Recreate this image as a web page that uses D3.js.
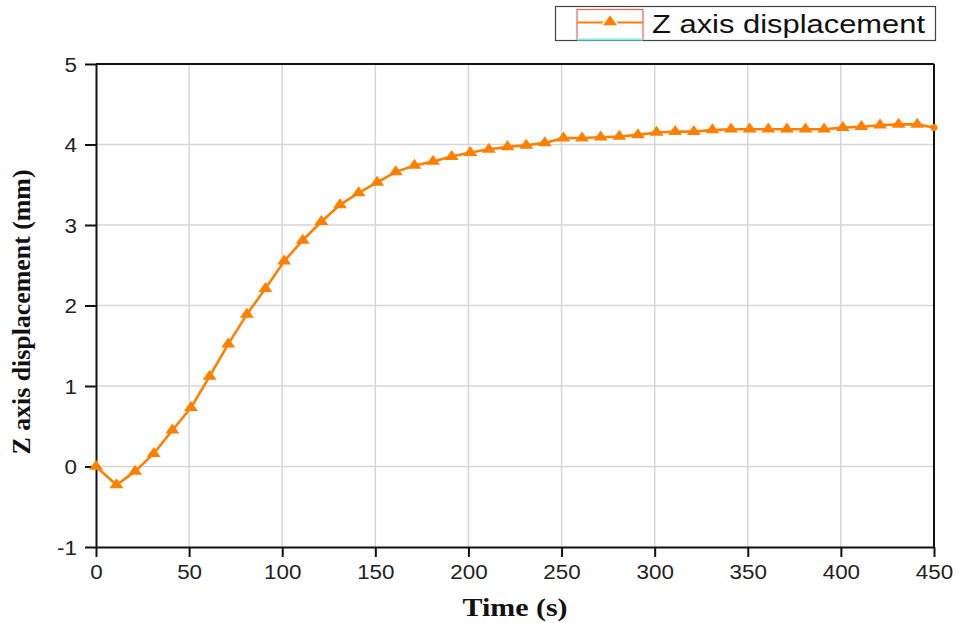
<!DOCTYPE html>
<html>
<head>
<meta charset="utf-8">
<script src="https://cdn.jsdelivr.net/npm/d3@7"></script>
<style>
  html, body { margin: 0; padding: 0; background: #fff; }
  svg { display: block; }
</style>
</head>
<body>
<svg id="chart" width="959" height="623"></svg>
<script>
// Z-axis displacement over time
const timeS = [0, 11, 21, 31, 41, 51, 61, 71, 81, 91, 101, 111, 121, 131, 141, 151, 161, 171, 181, 191,
  201, 211, 221, 231, 241, 251, 261, 271, 281, 291, 301, 311, 321, 331, 341, 351, 361, 371, 381, 391,
  401, 411, 421, 431, 441, 450];
const zDisp = [0, -0.23, -0.06, 0.16, 0.45, 0.73, 1.12, 1.52, 1.89, 2.21, 2.55, 2.81, 3.04, 3.25, 3.40, 3.53, 3.66, 3.74, 3.79, 3.85,
  3.90, 3.94, 3.97, 3.99, 4.02, 4.08, 4.08, 4.09, 4.10, 4.12, 4.15, 4.16, 4.16, 4.18, 4.19, 4.19, 4.19, 4.19, 4.19, 4.19,
  4.21, 4.22, 4.24, 4.25, 4.25, 4.21];
const xTicks = [0, 50, 100, 150, 200, 250, 300, 350, 400, 450];
const yTicks = [-1, 0, 1, 2, 3, 4, 5];
const seriesName = "Z axis displacement";

const color = "#ff8000";
const sans = "Liberation Sans, Arial, sans-serif";
const serif = "Liberation Serif, Times New Roman, serif";
const svg = d3.select("#chart");
const m = { left: 96, right: 934, top: 64, bottom: 547 };

// widen glyphs horizontally by a factor
function widen(sel, k) {
  sel.each(function () {
    const len = this.getComputedTextLength();
    d3.select(this).attr("textLength", len * k).attr("lengthAdjust", "spacingAndGlyphs");
  });
}

const x = d3.scaleLinear().domain([0, 450]).range([m.left, m.right]);
const y = d3.scaleLinear().domain([-1, 5]).range([m.bottom, m.top]);

// grid
const grid = svg.append("g").attr("stroke", "#d6d6d6").attr("stroke-width", 1.5);
grid.selectAll(".gx").data(xTicks.slice(1, -1)).join("line")
  .attr("x1", d => x(d)).attr("x2", d => x(d)).attr("y1", m.top).attr("y2", m.bottom);
grid.selectAll(".gy").data(yTicks.slice(1, -1)).join("line")
  .attr("y1", d => y(d)).attr("y2", d => y(d)).attr("x1", m.left).attr("x2", m.right);

// axes
const xAxis = svg.append("g").attr("transform", `translate(0,${m.bottom})`)
  .call(d3.axisBottom(x).tickValues(xTicks).tickSize(10).tickSizeOuter(0).tickPadding(8));
const yAxis = svg.append("g").attr("transform", `translate(${m.left},0)`)
  .call(d3.axisLeft(y).tickValues(yTicks).tickSize(11).tickSizeOuter(0).tickPadding(8)
    .tickFormat(d => String(d)));
[xAxis, yAxis].forEach(g => {
  g.selectAll("path").attr("stroke", "#111").attr("stroke-width", 2);
  g.selectAll("line").attr("stroke", "#111").attr("stroke-width", 2);
  g.selectAll("text").attr("font-family", sans).attr("font-size", 20).attr("fill", "#222");
  widen(g.selectAll("text"), 1.12);
});
yAxis.selectAll("text").attr("dy", "0.36em");

// frame top and right
svg.append("line").attr("x1", m.left).attr("x2", m.right).attr("y1", m.top).attr("y2", m.top)
  .attr("stroke", "#111").attr("stroke-width", 2);
svg.append("line").attr("x1", m.right).attr("x2", m.right).attr("y1", m.top).attr("y2", m.bottom)
  .attr("stroke", "#111").attr("stroke-width", 2);

// series
const pts = timeS.map((t, i) => [t, zDisp[i]]);
svg.append("path").datum(pts)
  .attr("fill", "none").attr("stroke", color).attr("stroke-width", 2.6)
  .attr("stroke-linejoin", "round")
  .attr("d", d3.line().x(d => x(d[0])).y(d => y(d[1])));

const tri = d3.symbol().type(d3.symbolTriangle).size(64);
svg.append("g").selectAll("path").data(pts.slice(0, -1)).join("path")
  .attr("d", tri).attr("fill", color)
  .attr("transform", d => `translate(${x(d[0])},${y(d[1])}) scale(1.15,0.95)`);
svg.append("circle").attr("cx", x(pts[pts.length - 1][0])).attr("cy", y(pts[pts.length - 1][1]))
  .attr("r", 3.5).attr("fill", color);

// axis titles
svg.append("text").attr("x", 515).attr("y", 616).attr("text-anchor", "middle")
  .attr("font-family", serif).attr("font-weight", "bold")
  .attr("font-size", 25).attr("fill", "#111")
  .attr("textLength", 105).attr("lengthAdjust", "spacingAndGlyphs").text("Time (s)");
svg.append("text").attr("transform", `translate(30,312) rotate(-90)`)
  .attr("text-anchor", "middle")
  .attr("font-family", serif).attr("font-weight", "bold")
  .attr("font-size", 25).attr("fill", "#111")
  .attr("textLength", 285).attr("lengthAdjust", "spacingAndGlyphs")
  .text("Z axis displacement (mm)");

// legend
const lg = svg.append("g");
lg.append("rect").attr("x", 555.5).attr("y", 6.5).attr("width", 380).attr("height", 34)
  .attr("fill", "#fff").attr("stroke", "#444").attr("stroke-width", 1.2);
lg.append("rect").attr("x", 577).attr("y", 9.5).attr("width", 66).attr("height", 30)
  .attr("fill", "none").attr("stroke", "#f06060").attr("stroke-width", 1.2);
lg.append("line").attr("x1", 577).attr("x2", 643).attr("y1", 39.5).attr("y2", 39.5)
  .attr("stroke", "#7ff0f0").attr("stroke-width", 2);
lg.append("line").attr("x1", 577).attr("x2", 643).attr("y1", 22.5).attr("y2", 22.5)
  .attr("stroke", color).attr("stroke-width", 2);
lg.append("path").attr("d", tri).attr("fill", color)
  .attr("transform", "translate(610,22) scale(1.15,0.95)")
  .attr("stroke", "#fff").attr("stroke-width", 3).attr("paint-order", "stroke");
lg.append("text").attr("x", 652).attr("y", 33)
  .attr("font-family", sans).attr("font-size", 25).attr("fill", "#111")
  .attr("textLength", 273).attr("lengthAdjust", "spacingAndGlyphs")
  .text(seriesName);
</script>
</body>
</html>
